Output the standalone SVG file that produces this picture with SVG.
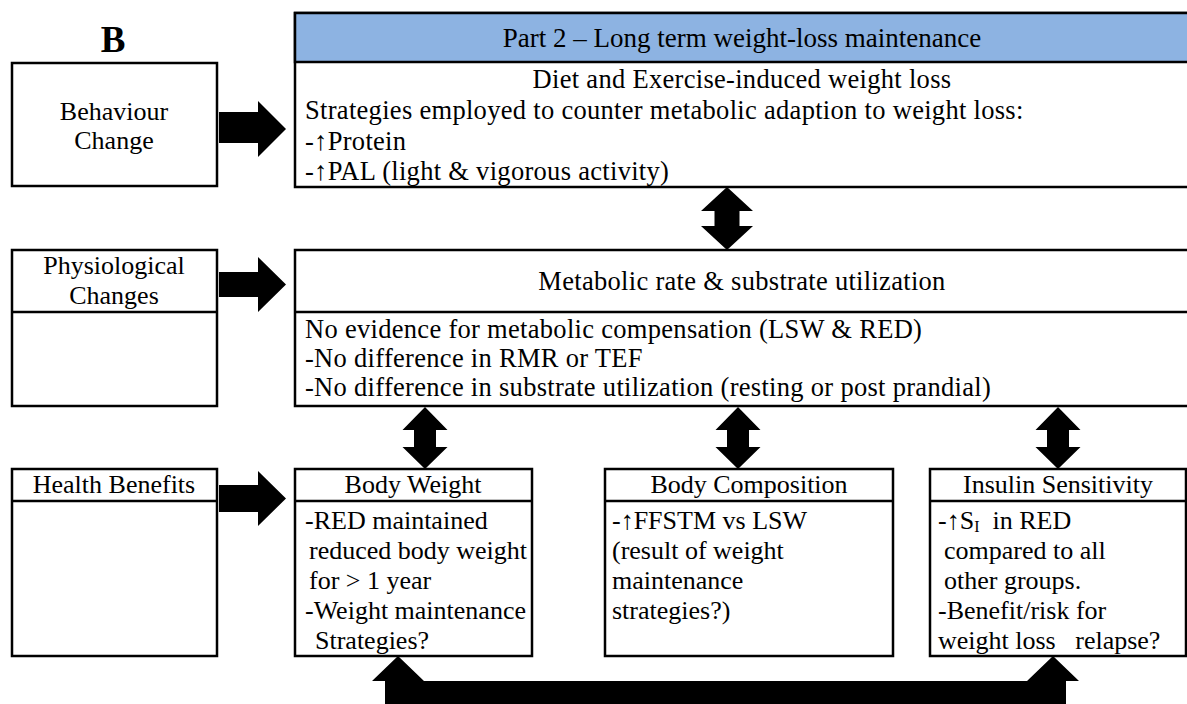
<svg xmlns="http://www.w3.org/2000/svg" width="1187" height="704" viewBox="0 0 1187 704">
<style>
.box{fill:#fff;stroke:#000;stroke-width:2.5}
.hdr{fill:#8DB3E2;stroke:#000;stroke-width:2.5}
.ln{stroke:#000;stroke-width:2.5}
.t{font-family:"Liberation Serif","Times New Roman",serif;font-size:26px;fill:#000}
.m{font-size:26.5px;letter-spacing:0.3px}
.c{text-anchor:middle}
.arrow{fill:#000}
</style>
<rect width="1187" height="704" fill="#fff"/>
<text x="113" y="52" class="t c" style="font-size:37px;font-weight:bold">B</text>

<g id="behaviour">
<rect class="box" x="12" y="63" width="205" height="123"/>
<text class="t c" x="114" y="120">Behaviour</text>
<text class="t c" x="114" y="149">Change</text>
</g>

<g id="part2">
<rect class="box" x="295" y="13" width="910" height="174"/>
<rect class="hdr" x="295" y="13" width="910" height="49"/>
<text class="t c" x="742" y="47" style="font-size:27px">Part 2 – Long term weight-loss maintenance</text>
<text class="t m c" x="742" y="88">Diet and Exercise-induced weight loss</text>
<text class="t m" x="305" y="119">Strategies employed to counter metabolic adaption to weight loss:</text>
<text class="t m" x="305" y="150">-↑Protein</text>
<text class="t m" x="305" y="180">-↑PAL (light &amp; vigorous activity)</text>
</g>

<g id="physiological">
<rect class="box" x="12" y="250" width="205" height="156"/>
<line class="ln" x1="12" y1="312" x2="217" y2="312"/>
<text class="t c" x="114" y="274">Physiological</text>
<text class="t c" x="114" y="304">Changes</text>
</g>

<g id="metabolic">
<rect class="box" x="295" y="250" width="910" height="156"/>
<line class="ln" x1="295" y1="312" x2="1205" y2="312"/>
<text class="t m c" x="742" y="290">Metabolic rate &amp; substrate utilization</text>
<text class="t m" x="305" y="338">No evidence for metabolic compensation (LSW &amp; RED)</text>
<text class="t m" x="305" y="367">-No difference in RMR or TEF</text>
<text class="t m" x="305" y="396">-No difference in substrate utilization (resting or post prandial)</text>
</g>

<g id="health">
<rect class="box" x="12" y="469" width="205" height="187"/>
<line class="ln" x1="12" y1="501" x2="217" y2="501"/>
<text class="t c" x="114" y="493">Health Benefits</text>
</g>

<g id="bodyweight">
<rect class="box" x="295" y="469" width="237" height="187"/>
<line class="ln" x1="295" y1="501" x2="532" y2="501"/>
<text class="t c" x="413" y="493">Body Weight</text>
<text class="t" x="305" y="529">-RED maintained</text>
<text class="t" x="309" y="559">reduced body weight</text>
<text class="t" x="309" y="589">for &gt; 1 year</text>
<text class="t" x="305" y="619">-Weight maintenance</text>
<text class="t" x="315" y="649">Strategies?</text>
</g>

<g id="bodycomp">
<rect class="box" x="605" y="469" width="288" height="187"/>
<line class="ln" x1="605" y1="501" x2="893" y2="501"/>
<text class="t c" x="749" y="493">Body Composition</text>
<text class="t" x="612" y="529">-↑FFSTM vs LSW</text>
<text class="t" x="612" y="559">(result of weight</text>
<text class="t" x="612" y="589">maintenance</text>
<text class="t" x="612" y="619">strategies?)</text>
</g>

<g id="insulin">
<rect class="box" x="930" y="469" width="256" height="187"/>
<line class="ln" x1="930" y1="501" x2="1186" y2="501"/>
<text class="t c" x="1058" y="493">Insulin Sensitivity</text>
<text class="t" x="938" y="529">-↑S<tspan font-size="16" dy="3">I</tspan><tspan dy="-3" xml:space="preserve">  in RED</tspan></text>
<text class="t" x="944" y="559">compared to all</text>
<text class="t" x="944" y="589">other groups.</text>
<text class="t" x="938" y="619">-Benefit/risk for</text>
<text class="t" x="938" y="649" xml:space="preserve">weight loss   relapse?</text>
</g>

<g id="connectors">
<polygon class="arrow" points="219,112 258,112 258,101 286,129 258,157 258,143 219,143"/>
<polygon class="arrow" points="219,272 258,272 258,257 286,284.5 258,312 258,297 219,297"/>
<polygon class="arrow" points="219,485 258,485 258,471 286,498.5 258,526 258,512 219,512"/>
<polygon class="arrow" points="727,187 753,211 739.5,211 739.5,226 753,226 727,250 701,226 714.5,226 714.5,211 701,211"/>
<polygon class="arrow" points="425,407 447.5,430 436,430 436,447 447.5,447 425,469 402.5,447 414,447 414,430 402.5,430"/>
<polygon class="arrow" points="738,407 760.5,430 749,430 749,447 760.5,447 738,469 715.5,447 727,447 727,430 715.5,430"/>
<polygon class="arrow" points="1058,407 1080.5,430 1069,430 1069,447 1080.5,447 1058,469 1035.5,447 1047,447 1047,430 1035.5,430"/>
<polygon class="arrow" points="385,710 385,681 372,681 398,656 424,681 1027,681 1053,656 1079,681 1066,681 1066,710"/>
</g>
</svg>
